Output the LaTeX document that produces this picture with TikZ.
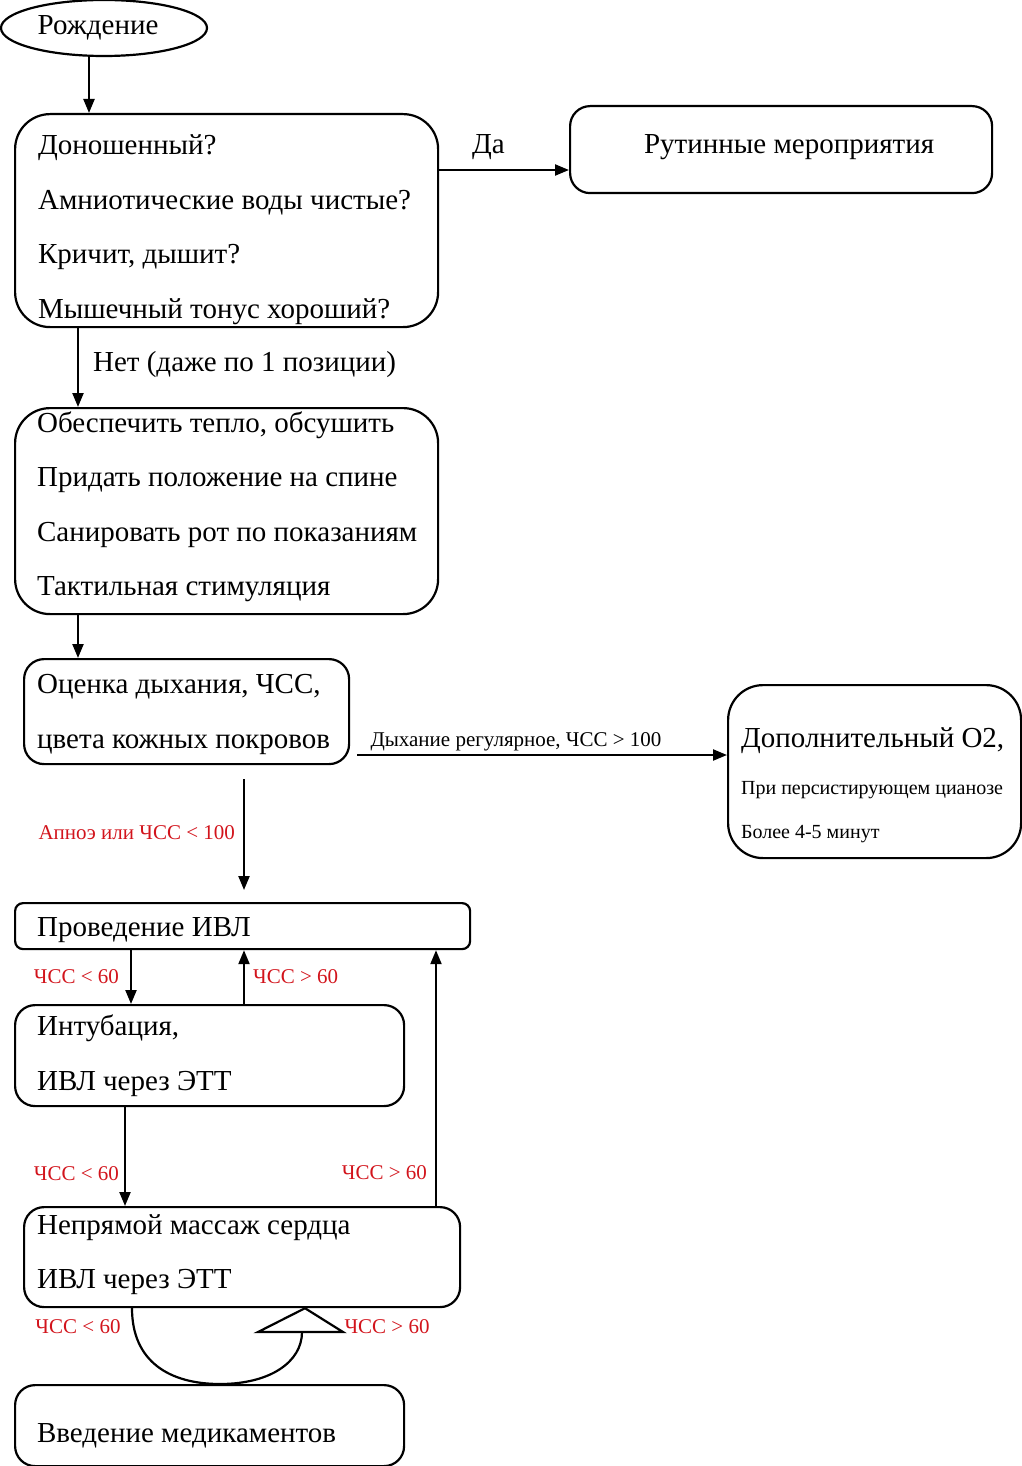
\documentclass[tikz,border=0pt]{standalone}
\usepackage{fontspec}
\setmainfont{Liberation Serif}
\usetikzlibrary{shapes.geometric,arrows.meta}
\definecolor{labred}{RGB}{210,20,28}
\newcommand\bigtxt{\fontsize{29}{54.5}\selectfont}
\newcommand\smalltxt{\fontsize{20}{44}\selectfont}
\newcommand\labtxt{\fontsize{21}{25}\selectfont}

\begin{document}
\begin{tikzpicture}[x=1pt, y=-1pt, line width=2.2pt,
  box/.style={draw, rounded corners=#1, anchor=north west, inner sep=0pt},
  box/.default=20pt,
  txt/.style={align=left, inner sep=0pt, font=\bigtxt, anchor=west},
  arr/.style={-{Triangle[length=14pt,width=11pt]}},
  redlab/.style={font=\labtxt, text=labred, inner sep=2pt},
  lab/.style={font=\bigtxt, inner sep=2pt}]
  \useasboundingbox (0,0) rectangle (1021,1466);

  \node[draw, ellipse, minimum width=206pt, minimum height=56pt, inner sep=0pt] (birth) at (104,28) {};
  \node[lab] (birthtxt) at ([xshift=-6pt]birth.center) {Рождение};

  % boxes
  \node[box=35pt, minimum width=423pt, minimum height=213pt] (check) at (14,113) {};
  \node[box, minimum width=422pt, minimum height=87pt] (routine) at (569,105) {};
  \node[box=35pt, minimum width=423pt, minimum height=206pt] (warm) at (14,407) {};
  \node[box, minimum width=325pt, minimum height=105pt] (assess) at (23,658) {};
  \node[box=35pt, minimum width=293pt, minimum height=173pt] (oxygen) at (727,684) {};
  \node[box=8pt, minimum width=455pt, minimum height=46pt] (vent) at (14,902) {};
  \node[box, minimum width=389pt, minimum height=101pt] (intub) at (14,1004) {};
  \node[box, minimum width=436pt, minimum height=100pt] (cpr) at (23,1206) {};
  \node[box, minimum width=389pt, minimum height=81pt] (drugs) at (14,1384) {};

  % texts
  \node[txt] (checktxt) at ([xshift=23pt, yshift=-9pt]check.west)
    {Доношенный?\\Амниотические воды чистые?\\Кричит, дышит?\\Мышечный тонус хороший?};
  \node[lab] (routinetxt) at ([xshift=8pt, yshift=2pt]routine.center) {Рутинные мероприятия};
  \node[txt] (warmtxt) at ([xshift=22pt, yshift=4.5pt]warm.west)
    {Обеспечить тепло, обсушить\\Придать положение на спине\\Санировать рот по показаниям\\Тактильная стимуляция};
  \node[txt] (assesstxt) at ([xshift=13pt, yshift=-3pt]assess.west)
    {Оценка дыхания, ЧСС,\\цвета кожных покровов};
  \node[txt, font=\smalltxt] (oxygentxt) at ([xshift=13pt, yshift=-13.5pt]oxygen.west)
    {{\bigtxt Дополнительный О2,}\\[3pt]При персистирующем цианозе\\Более 4-5 минут};
  \node[txt] (venttxt) at ([xshift=22pt, yshift=-3.5pt]vent.west) {Проведение ИВЛ};
  \node[txt] (intubtxt) at ([xshift=22pt]intub.west) {Интубация,\\ИВЛ через ЭТТ};
  \node[txt] (cprtxt) at ([xshift=13pt, yshift=2.5pt]cpr.west) {Непрямой массаж сердца\\ИВЛ через ЭТТ};
  \node[txt] (drugstxt) at ([xshift=22pt, yshift=-10pt]drugs.west) {Введение медикаментов};

  % connectors
  \draw[arr] (birth.south -| 89,0) -- (check.north -| 89,0);
  \draw[arr] (check.east |- 0,170) -- (routine.west |- 0,170)
    node[lab, pos=0.38, above=7pt] (yes) {Да};
  \draw[arr] (check.south -| 78,0) -- (warm.north -| 78,0)
    node[lab, pos=0.46, right=12pt] (no) {Нет (даже по 1 позиции)};
  \draw[arr] (warm.south -| 78,0) -- (assess.north -| 78,0);
  \draw[arr, shorten <=7pt] (assess.east |- 0,755) -- (oxygen.west |- 0,755)
    node[pos=0.44, above=1pt, font=\labtxt, inner sep=2pt] (regular) {Дыхание регулярное, ЧСС > 100};
  \draw[arr, shorten <=14pt, shorten >=12pt] (assess.south -| 244,0) -- (vent.north -| 244,0)
    node[redlab, pos=0.49, left=6pt] (apnoea) {Апноэ или ЧСС < 100};
  \draw[arr] (vent.south -| 131,0) -- (intub.north -| 131,0)
    node[redlab, midway, left=9pt] (low1) {ЧСС < 60};
  \draw[arr] (intub.north -| 244,0) -- (vent.south -| 244,0)
    node[redlab, midway, right=6pt] (high1) {ЧСС > 60};
  \draw[arr] (intub.south -| 125,0) -- (cpr.north -| 125,0)
    node[redlab, pos=0.67, left=3pt] (low2) {ЧСС < 60};
  \draw[arr] (cpr.north -| 436,0) -- (vent.south -| 436,0)
    node[redlab, pos=0.13, left=6pt] (high2) {ЧСС > 60};

  % loop between massage and drugs
  \coordinate (tip) at (cpr.south -| 305,0);
  \draw (cpr.south -| 132,0) .. controls (132,1362) and (170,1384) .. (drugs.north -| 220,0)
    .. controls (270,1384) and (302,1362) .. (302,1332);
  \draw[fill=white] (258,1332) -- (tip) -- (343,1332) -- cycle;
  \node[redlab] (low3) at (78,1327) {ЧСС < 60};
  \node[redlab] (high3) at (387,1327) {ЧСС > 60};
\end{tikzpicture}
\end{document}
